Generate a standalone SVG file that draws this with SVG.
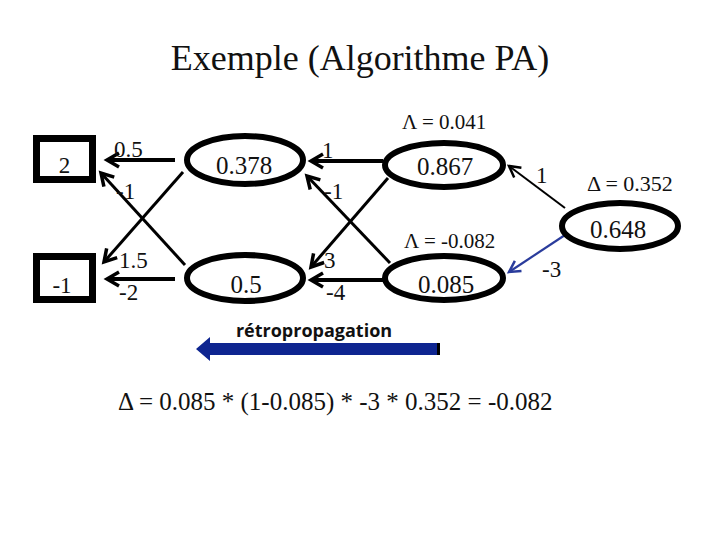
<svg xmlns="http://www.w3.org/2000/svg" width="720" height="540" viewBox="0 0 720 540">
<defs>
<style>
.serif{font-family:"Liberation Serif","Times New Roman",serif;fill:#111;}
.node{fill:#fff;stroke:#000;stroke-width:6;}
.box{fill:#fff;stroke:#000;stroke-width:7;}
.conn{stroke:#000;fill:none;}
.thick{stroke-width:4;}
.mid{stroke-width:3;}
.thin{stroke-width:2;}
</style>
<marker id="ah" viewBox="-16 -10 20 20" markerWidth="20" markerHeight="20" refX="0" refY="0" orient="auto" markerUnits="userSpaceOnUse">
<path d="M -12 -7 L 0 0 L -12 7" fill="none" stroke="#000" stroke-width="3.5" stroke-linejoin="miter"/>
</marker>
<marker id="ahs" viewBox="-16 -10 20 20" markerWidth="20" markerHeight="20" refX="0" refY="0" orient="auto" markerUnits="userSpaceOnUse">
<path d="M -11 -6 L 0 0 L -11 6" fill="none" stroke="#000" stroke-width="2.5"/>
</marker>
<marker id="ahb" viewBox="-16 -10 20 20" markerWidth="20" markerHeight="20" refX="0" refY="0" orient="auto" markerUnits="userSpaceOnUse">
<path d="M -11 -6 L 0 0 L -11 6" fill="none" stroke="#2a3c9c" stroke-width="2.5"/>
</marker>
</defs>
<rect width="720" height="540" fill="#fff"/>
<text class="serif" x="360" y="70" font-size="36" text-anchor="middle" fill="#222">Exemple (Algorithme PA)</text>

<g id="connectors">
<line class="conn thick" x1="175" y1="160" x2="107" y2="160" marker-end="url(#ah)"/>
<line class="conn mid" x1="183" y1="172" x2="104" y2="262" marker-end="url(#ah)"/>
<line class="conn mid" x1="185" y1="265" x2="101" y2="173" marker-end="url(#ah)"/>
<line class="conn thick" x1="175" y1="279" x2="107" y2="279" marker-end="url(#ah)"/>
<line class="conn thick" x1="383" y1="161" x2="311" y2="161" marker-end="url(#ah)"/>
<line class="conn mid" x1="388" y1="178" x2="311" y2="267" marker-end="url(#ah)"/>
<line class="conn mid" x1="390" y1="263" x2="307" y2="176" marker-end="url(#ah)"/>
<line class="conn thick" x1="383" y1="280" x2="311" y2="280" marker-end="url(#ah)"/>
<line class="conn thin" x1="565" y1="208" x2="509" y2="166" marker-end="url(#ahs)"/>
<line x1="565" y1="235" x2="509" y2="272" stroke="#2a3c9c" stroke-width="2.2" marker-end="url(#ahb)"/>
<g class="serif" font-size="23">
<text x="114" y="157">0.5</text>
<text x="116" y="199">-1</text>
<text x="119" y="268">1.5</text>
<text x="119" y="300">-2</text>
<text x="322" y="158">1</text>
<text x="324" y="199">-1</text>
<text x="324" y="268">3</text>
<text x="326" y="300">-4</text>
<text x="536" y="183">1</text>
<text x="542" y="277">-3</text>
</g>
</g>

<g id="in1">
<rect class="box" x="36.5" y="138.5" width="56" height="41"/>
<text class="serif" x="64.5" y="173" font-size="23" text-anchor="middle">2</text>
</g>
<g id="in2">
<rect class="box" x="36.5" y="256.5" width="56" height="43"/>
<text class="serif" x="62" y="293" font-size="23" text-anchor="middle">-1</text>
</g>
<g id="h1a">
<ellipse class="node" cx="245" cy="160" rx="58" ry="24"/>
<text class="serif" x="244" y="174" font-size="25" text-anchor="middle">0.378</text>
</g>
<g id="h1b">
<ellipse class="node" cx="245" cy="278" rx="58" ry="23"/>
<text class="serif" x="246" y="293" font-size="25" text-anchor="middle">0.5</text>
</g>
<g id="h2a">
<ellipse class="node" cx="444" cy="165" rx="59" ry="22"/>
<text class="serif" x="445" y="175" font-size="25" text-anchor="middle">0.867</text>
<text class="serif" x="402" y="129" font-size="21">Λ = 0.041</text>
</g>
<g id="h2b">
<ellipse class="node" cx="444" cy="278" rx="59" ry="22"/>
<text class="serif" x="446" y="293" font-size="25" text-anchor="middle">0.085</text>
<text class="serif" x="404" y="248" font-size="21">Λ = -0.082</text>
</g>
<g id="out">
<ellipse class="node" cx="620" cy="226" rx="58" ry="23"/>
<text class="serif" x="618" y="238" font-size="25" text-anchor="middle">0.648</text>
<text class="serif" x="587" y="191" font-size="22">Δ = 0.352</text>
</g>

<g id="retro">
<text x="314" y="337" font-family="'Open Sans','Liberation Sans',Arial,sans-serif" font-weight="bold" font-size="18" text-anchor="middle" fill="#111">rétropropagation</text>
<path d="M 440 343 L 210 343 L 210 337 L 196 349 L 210 361 L 210 355 L 440 355 Z" fill="#0e2590"/>
<rect x="437" y="343" width="3" height="12" fill="#000"/>
</g>
<text class="serif" x="118" y="410" font-size="25">Δ = 0.085 * (1-0.085) * -3 * 0.352 = -0.082</text>
</svg>
